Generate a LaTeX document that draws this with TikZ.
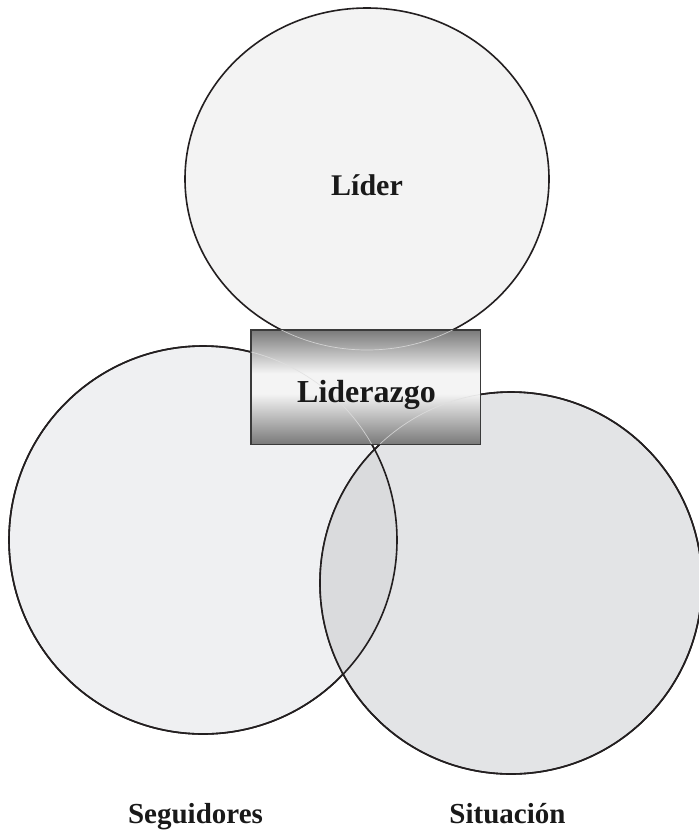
\documentclass[tikz,border=0pt]{standalone}
\usepackage{fontspec}
\setmainfont{Liberation Serif}
\usetikzlibrary{shapes.geometric}

\definecolor{fillLider}{HTML}{F3F3F3}
\definecolor{fillSeg}{HTML}{EFF0F2}
\definecolor{fillSit}{HTML}{E3E4E6}
\definecolor{fillLens}{HTML}{DADBDD}
\definecolor{edge}{HTML}{231F20}
\definecolor{boxEdge}{HTML}{3A3A3A}
\definecolor{boxDark}{HTML}{7A7A7A}
\definecolor{boxLight}{HTML}{F4F4F4}

% vertical metal-like shading for the central box (visible range 25bp..75bp)
\pgfdeclareverticalshading{metalbox}{100bp}{%
  color(0bp)=(boxDark); color(25bp)=(boxDark);
  color(47bp)=(boxLight); color(56bp)=(boxLight);
  color(75bp)=(boxDark); color(100bp)=(boxDark)}

\tikzset{
  setline/.style={draw=edge, line width=1.6pt},
  setdisk/.style={circle, setline, inner sep=0pt, outer sep=0pt},
  ghost/.style={draw=white!75!gray, line width=0.7pt, opacity=0.8},
  biglabel/.style={font=\bfseries\fontsize{29}{34}\selectfont, text=black!90, anchor=base, inner sep=0pt},
}

\begin{document}
\begin{tikzpicture}[x=1pt, y=-1pt]
  \useasboundingbox (0,0) rectangle (699,831);

  % centres of the three sets
  \coordinate (cL) at (367,179);
  \coordinate (cS) at (203,540);
  \coordinate (cT) at (511,583);

  % Líder
  \node[ellipse, setline, fill=fillLider, inner sep=0pt,
        minimum width=364pt, minimum height=342pt] (lider) at (cL) {};

  % Seguidores and Situación
  \node[setdisk, fill=fillSeg, minimum size=388pt] (seg) at (cS) {};
  \node[setdisk, fill=fillSit, minimum size=382pt] (sit) at (cT) {};

  % overlap of Seguidores and Situación
  \begin{scope}
    \clip (cS) circle[radius=194pt];
    \fill[fillLens] (cT) circle[radius=191pt];
  \end{scope}
  \draw[setline] (cS) circle[radius=194pt];
  \draw[setline] (cT) circle[radius=191pt];

  % central box
  \node[rectangle, draw=boxEdge, line width=1pt, shading=metalbox,
        minimum width=229pt, minimum height=114pt, inner sep=0pt] (box) at (365.5,387) {};

  % faint outlines of the sets seen through the box
  \begin{scope}
    \clip (box.south west) rectangle (box.north east);
    \draw[ghost] (cL) ellipse[x radius=182pt, y radius=171pt];
    \draw[ghost] (cS) circle[radius=194pt];
    \draw[ghost] (cT) circle[radius=191pt];
  \end{scope}
  \draw[boxEdge, line width=1pt] (box.south west) rectangle (box.north east);

  % labels
  \node[biglabel, font=\bfseries\fontsize{30}{36}\selectfont] (tLider) at (367,195) {Líder};
  \node[biglabel, font=\bfseries\fontsize{32}{38}\selectfont] (tLiderazgo) at (366.5,402) {Liderazgo};
  \node[biglabel] (tSeg) at (195.5,823) {Seguidores};
  \node[biglabel] (tSit) at (507.5,823) {Situación};
\end{tikzpicture}
\end{document}
